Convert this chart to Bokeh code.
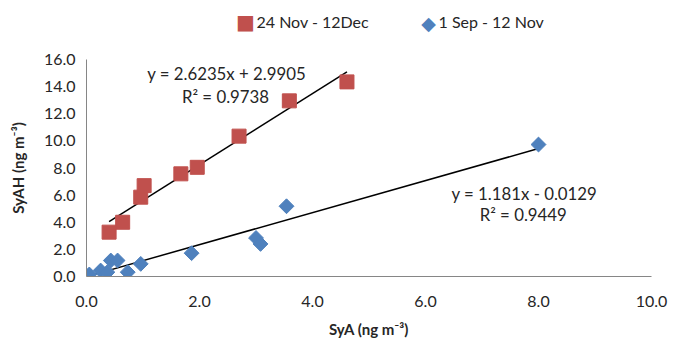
import numpy as np
from bokeh.plotting import figure
from bokeh.layouts import column
from bokeh.models import Range1d, Label, FixedTicker, PrintfTickFormatter
from bokeh.core.properties import value
from bokeh.embed import file_html
from bokeh.resources import INLINE

# 24 Nov - 12 Dec series
nov_x = [0.40, 0.64, 0.96, 1.02, 1.67, 1.96, 2.70, 3.59, 4.61]
nov_y = [3.27, 4.00, 5.85, 6.70, 7.57, 8.05, 10.35, 12.95, 14.35]
# 1 Sep - 12 Nov series
sep_x = [0.05, 0.25, 0.37, 0.43, 0.55, 0.73, 0.96, 1.86, 3.00, 3.08, 3.54, 8.00]
sep_y = [0.15, 0.44, 0.32, 1.18, 1.18, 0.32, 0.93, 1.72, 2.84, 2.40, 5.18, 9.73]

nov_label = "24 Nov - 12Dec"
sep_label = "1 Sep - 12 Nov"
x_title = "SyA (ng m⁻³)"
y_title = "SyAH (ng m⁻³)"

# trendline coefficients (as printed on the chart)
nov_slope, nov_icpt = 2.6235, 2.9905
sep_slope, sep_icpt = 1.181, -0.0129
nov_eq = "y = 2.6235x + 2.9905"
nov_r2 = "R² = 0.9738"
sep_eq = "y = 1.181x - 0.0129"
sep_r2 = "R² = 0.9449"

x_ticks = [0, 2, 4, 6, 8, 10]
y_ticks = [0, 2, 4, 6, 8, 10, 12, 14, 16]

RED = "#C0504D"
BLUE = "#4F81BD"
FONT = "Lato"
TXT = "#262626"
W = 671
BL = 86
FW = 565

# ---------------- main chart ----------------
p = figure(frame_width=FW, frame_height=217, x_range=Range1d(0, 10), y_range=Range1d(0, 16),
           output_backend="svg", toolbar_location=None,
           min_border_left=BL, min_border_right=W - BL - FW, min_border_top=19,
           min_border_bottom=62)
p.outline_line_color = None
p.grid.visible = False

for ax in (p.xaxis[0], p.yaxis[0]):
    ax.major_tick_line_color = None
    ax.minor_tick_line_color = None
    ax.axis_line_color = "#868686"
    ax.axis_line_width = 1
    ax.major_label_text_font = FONT
    ax.major_label_text_font_size = "16px"
    ax.major_label_text_color = TXT
    ax.axis_label_text_font = FONT
    ax.axis_label_text_font_style = "bold"
    ax.axis_label_text_font_size = "15px"
    ax.axis_label_text_color = TXT
    ax.formatter = PrintfTickFormatter(format="%.1f")

p.xaxis[0].ticker = FixedTicker(ticks=x_ticks)
p.yaxis[0].ticker = FixedTicker(ticks=y_ticks)
p.xaxis[0].axis_label = x_title
p.yaxis[0].axis_label = y_title
p.xaxis[0].major_label_standoff = 13
p.xaxis[0].axis_label_standoff = 10
p.yaxis[0].major_label_standoff = 5
p.yaxis[0].axis_label_standoff = 14

# trend lines
nx = np.array([min(nov_x), max(nov_x)])
sx = np.array([min(sep_x), max(sep_x)])
p.line(nx, nov_slope * nx + nov_icpt, line_color="black", line_width=1.5)
p.line(sx, sep_slope * sx + sep_icpt, line_color="black", line_width=1.5)

p.scatter(nov_x, nov_y, marker="square", size=14, fill_color=RED, line_color=RED)
p.scatter(sep_x, sep_y, marker="square", size=10.5, angle=np.pi / 4,
          fill_color=BLUE, line_color=BLUE)

# equations
p.text(x=[2.48, 2.46], y=[14.97, 13.27], text=[nov_eq, nov_r2],
       text_align="center", text_baseline="middle", text_font=value(FONT),
       text_font_size="16.8px", text_color=TXT)
p.text(x=[7.75, 7.73], y=[6.12, 4.57], text=[sep_eq, sep_r2],
       text_align="center", text_baseline="middle", text_font=value(FONT),
       text_font_size="16.8px", text_color=TXT)

# ---------------- legend strip (frame aligned with the chart's frame) ----------------
LH = 40
lf = figure(frame_width=FW, frame_height=LH, x_range=Range1d(0, 1), y_range=Range1d(0, 1),
            output_backend="svg", toolbar_location=None,
            min_border_left=BL, min_border_right=W - BL - FW, min_border_top=0,
            min_border_bottom=0)
lf.axis.visible = False
lf.grid.visible = False
lf.outline_line_color = None

def key(sym, color, size, x, y):
    lf.add_layout(Label(x=x, y=y, x_units="screen", y_units="screen", text=sym,
                        text_align="center", text_baseline="middle", text_font="DejaVu Sans",
                        text_font_size=size, text_color=color))

def txt(s, x, y):
    lf.add_layout(Label(x=x, y=y, x_units="screen", y_units="screen", text=s,
                        text_align="left", text_baseline="middle", text_font=FONT,
                        text_font_size="16px", text_color=TXT))

key("■", RED, "20px", 245 - BL, LH - 21.5)
txt(nov_label, 256 - BL, LH - 21)
key("◆", BLUE, "19px", 428 - BL, LH - 22)
txt(sep_label, 438 - BL, LH - 21)

layout = column(lf, p, spacing=0)
open("out.html", "w").write(file_html(layout, INLINE))
